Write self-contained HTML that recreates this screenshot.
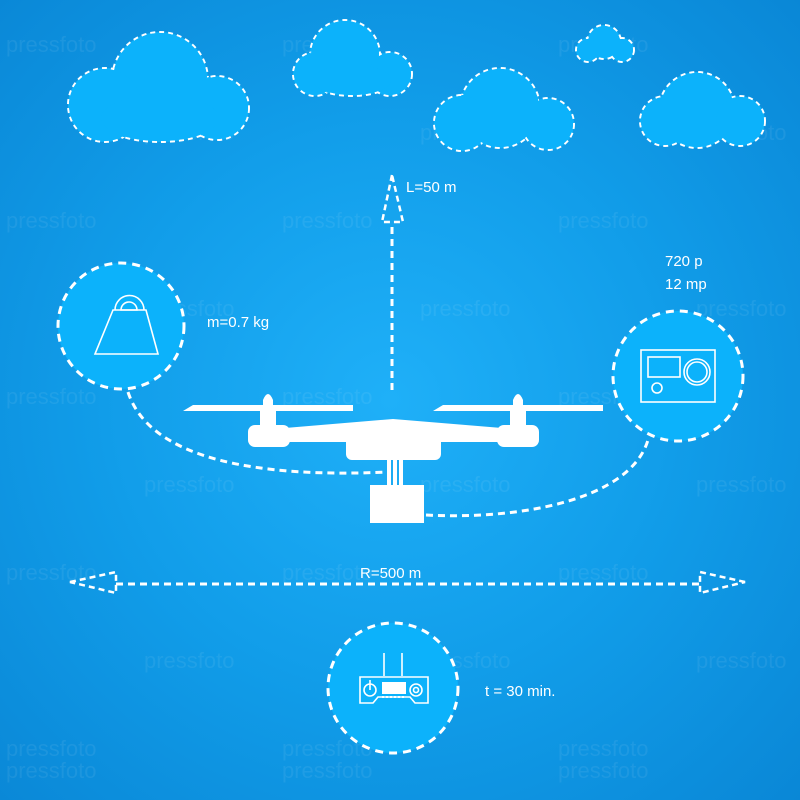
<!DOCTYPE html>
<html><head><meta charset="utf-8"><style>
html,body{margin:0;padding:0}
body{width:800px;height:800px;overflow:hidden;background:radial-gradient(circle at 390px 400px,#1fb0f8 0%,#119de9 50%,#0a87d6 100%);font-family:"Liberation Sans",sans-serif}
svg{position:absolute;left:0;top:0}
</style></head><body>
<svg width="800" height="800" viewBox="0 0 800 800">
<g fill="#ffffff" fill-opacity="0.07" font-size="22" font-family="Liberation Sans,sans-serif">
<text x="6" y="52">pressfoto</text><text x="282" y="52">pressfoto</text><text x="558" y="52">pressfoto</text>
<text x="144" y="140">pressfoto</text><text x="420" y="140">pressfoto</text><text x="696" y="140">pressfoto</text>
<text x="6" y="228">pressfoto</text><text x="282" y="228">pressfoto</text><text x="558" y="228">pressfoto</text>
<text x="144" y="316">pressfoto</text><text x="420" y="316">pressfoto</text><text x="696" y="316">pressfoto</text>
<text x="6" y="404">pressfoto</text><text x="282" y="404">pressfoto</text><text x="558" y="404">pressfoto</text>
<text x="144" y="492">pressfoto</text><text x="420" y="492">pressfoto</text><text x="696" y="492">pressfoto</text>
<text x="6" y="580">pressfoto</text><text x="282" y="580">pressfoto</text><text x="558" y="580">pressfoto</text>
<text x="144" y="668">pressfoto</text><text x="420" y="668">pressfoto</text><text x="696" y="668">pressfoto</text>
<text x="6" y="756">pressfoto</text><text x="282" y="756">pressfoto</text><text x="558" y="756">pressfoto</text>
<text x="6" y="778">pressfoto</text><text x="282" y="778">pressfoto</text><text x="558" y="778">pressfoto</text>
</g>
<!-- clouds: dashed outlines then fill on top -->
<g id="cl" fill="#0cb2fb" stroke="#fff" stroke-width="2" stroke-dasharray="5 4">
<circle cx="160" cy="80" r="48"/><circle cx="105" cy="105" r="37"/><circle cx="217" cy="108" r="32"/><ellipse cx="160" cy="118" rx="60" ry="24"/>
<circle cx="345" cy="55" r="35"/><circle cx="315" cy="74" r="22"/><circle cx="390" cy="74" r="22"/><ellipse cx="352" cy="80" rx="40" ry="16"/>
<circle cx="500" cy="108" r="40"/><circle cx="462" cy="123" r="28"/><circle cx="548" cy="124" r="26"/>
<circle cx="604" cy="42" r="17"/><circle cx="588" cy="50" r="12"/><circle cx="622" cy="50" r="12"/>
<circle cx="697" cy="110" r="38"/><circle cx="665" cy="121" r="25"/><circle cx="740" cy="121" r="25"/>
</g>
<g fill="#0cb2fb">
<circle cx="160" cy="80" r="47"/><circle cx="105" cy="105" r="36"/><circle cx="217" cy="108" r="31"/><ellipse cx="160" cy="118" rx="59" ry="23"/>
<circle cx="345" cy="55" r="34"/><circle cx="315" cy="74" r="21"/><circle cx="390" cy="74" r="21"/><ellipse cx="352" cy="80" rx="39" ry="15"/>
<circle cx="500" cy="108" r="39"/><circle cx="462" cy="123" r="27"/><circle cx="548" cy="124" r="25"/>
<circle cx="604" cy="42" r="16"/><circle cx="588" cy="50" r="11"/><circle cx="622" cy="50" r="11"/>
<circle cx="697" cy="110" r="37"/><circle cx="665" cy="121" r="24"/><circle cx="740" cy="121" r="24"/>
</g>
<!-- circles -->
<g fill="#0cb2fb" stroke="#fff" stroke-width="3" stroke-dasharray="8 6">
<circle cx="121" cy="326" r="63"/>
<circle cx="678" cy="376" r="65"/>
<circle cx="393" cy="688" r="65"/>
</g>
<!-- dashed connectors -->
<g fill="none" stroke="#fff" stroke-width="3" stroke-dasharray="7 5">
<path d="M128 392 C150 460 260 478 388 472"/>
<path d="M426 515 C520 520 630 500 648 440"/>
<path d="M392 390 L392 222"/>
<path d="M116 584 L700 584"/>
</g>
<g fill="none" stroke="#fff" stroke-width="2.5" stroke-dasharray="6 4">
<path d="M392 175 L382 222 L403 222 Z"/>
<path d="M70 582 L116 572 L116 593 Z"/>
<path d="M745 582 L700 572 L700 593 Z"/>
</g>
<!-- drone -->
<g fill="#fff">
<path d="M183 411 L193 405 L353 405 L353 411 Z"/>
<path d="M433 411 L443 405 L603 405 L603 411 Z"/>
<path d="M263 412 L263 400 Q268 388 273 400 L273 412 Z"/>
<path d="M513 412 L513 400 Q518 388 523 400 L523 412 Z"/>
<rect x="260" y="411" width="16" height="16"/>
<rect x="510" y="411" width="16" height="16"/>
<rect x="248" y="425" width="42" height="22" rx="7"/>
<rect x="497" y="425" width="42" height="22" rx="7"/>
<path d="M285 428 L393 419 L502 428 L502 442 L285 442 Z"/>
<rect x="346" y="430" width="95" height="30" rx="6"/>
<rect x="387" y="458" width="4" height="28"/><rect x="393" y="458" width="4" height="28"/><rect x="399" y="458" width="4" height="28"/>
<rect x="370" y="485" width="54" height="38"/>
</g>
<!-- icons -->
<g fill="none" stroke="#fff" stroke-width="1.6">
<path d="M113 310 L146 310 L158 354 L95 354 Z"/>
<path d="M115 310 A14 14 0 0 1 144 310"/>
<path d="M121 310 A8 8 0 0 1 137 310 Z"/>
<rect x="641" y="350" width="74" height="52"/>
<rect x="648" y="357" width="32" height="20"/>
<circle cx="697" cy="372" r="13"/><circle cx="697" cy="372" r="10"/>
<circle cx="657" cy="388" r="5"/>
<path d="M360 677 L428 677 L428 703 L415 703 L410 697 L378 697 L373 703 L360 703 Z"/>
<path d="M384 676 L384 653 M402 676 L402 653"/>
<circle cx="370" cy="690" r="6"/><path d="M370 690 L370 680"/>
<circle cx="416" cy="690" r="6"/><circle cx="416" cy="690" r="2.5"/>
</g>
<rect x="382" y="682" width="24" height="12" fill="#fff"/>
<path d="M382 697 L406 697" stroke="#fff" stroke-width="2" stroke-dasharray="2 2"/>
<!-- labels -->
<g fill="#fff" font-size="15" font-family="Liberation Sans,sans-serif">
<text x="406" y="192">L=50 m</text>
<text x="207" y="327">m=0.7 kg</text>
<text x="665" y="266">720 p</text>
<text x="665" y="289">12 mp</text>
<text x="360" y="578">R=500 m</text>
<text x="485" y="696">t = 30 min.</text>
</g>
</svg>
</body></html>
